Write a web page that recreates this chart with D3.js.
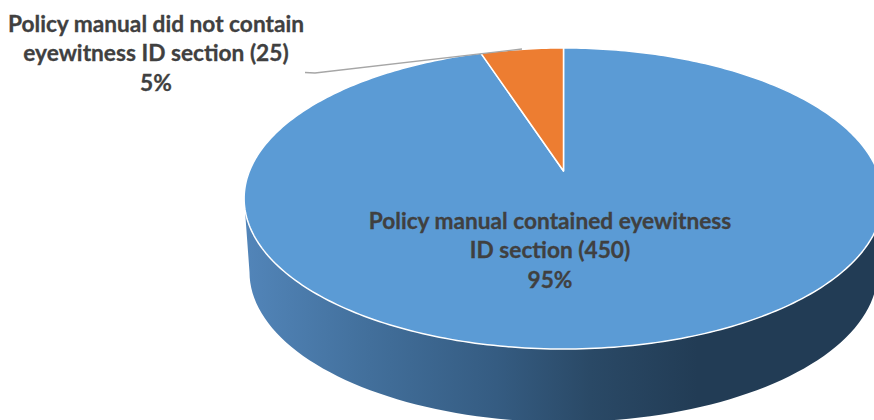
<!DOCTYPE html>
<html><head><meta charset="utf-8">
<script src="https://cdn.jsdelivr.net/npm/d3@7/dist/d3.min.js"></script>
<style>html,body{margin:0;padding:0;background:#fff;overflow:hidden}svg{display:block}</style>
</head><body><svg id="c" width="874" height="420"></svg>
<script>
const categories = ["Policy manual contained eyewitness ID section", "Policy manual did not contain eyewitness ID section"];
const counts = [450, 25];
const percentValues = [95, 5];
const sliceColors = ["#5b9bd5", "#ed7d31"];
const labelLines = [
  ["Policy manual contained eyewitness", "ID section (450)", "95%"],
  ["Policy manual did not contain", "eyewitness ID section (25)", "5%"]
];

const W = 874, H = 420;
const svg = d3.select("#c");
const apex = {x: 563.5, y: 171};
const k = 0.1827, a = 145.5, b = 314;
// Tilted-disc projection: a circle seen in perspective, so the pie's centre sits above the ellipse centre
const project = (ang) => {
  const u = Math.sin(ang), v = Math.cos(ang), d = 1 + k * v;
  return [apex.x + b * u / d, apex.y - a * v / d];
};
const rimCx = apex.x, rimCy = 198.5, rimRx = b / Math.sqrt(1 - k * k), rimRy = 150.5;
const wallBottomCy = 272, wallBottomRx = 314, wallBottomRy = 150;

const pie = d3.pie().sort(null).startAngle(0).endAngle(2 * Math.PI);
const arcs = pie(percentValues);
const line = d3.line();

const defs = svg.append("defs");
const grad = defs.append("linearGradient").attr("id", "wall")
  .attr("gradientUnits", "userSpaceOnUse").attr("x1", 244).attr("x2", 874).attr("y1", 0).attr("y2", 0);
[[0, "#5285b9"], [0.2, "#426f9b"], [0.4, "#355c82"], [0.55, "#2a4966"], [0.72, "#223c55"], [1, "#223c55"]]
  .forEach(([o, c]) => grad.append("stop").attr("offset", o).attr("stop-color", c));

// side wall: lower half of the rim, then back along the lower half of the base
const halfTurn = d3.range(0, 181, 2).map(t => t * Math.PI / 180);
const wallTop = halfTurn.map(t => [rimCx + rimRx * Math.cos(t), rimCy + rimRy * Math.sin(t)]);
const wallBase = halfTurn.slice().reverse().map(t => [rimCx + wallBottomRx * Math.cos(t), wallBottomCy + wallBottomRy * Math.sin(t)]);
svg.append("path").attr("d", line(wallTop.concat(wallBase)) + "Z").attr("fill", "url(#wall)");

// top face
const wedgePath = (d) => {
  const n = Math.max(8, Math.ceil((d.endAngle - d.startAngle) * 60));
  const pts = d3.range(n + 1).map(i => project(d.startAngle + (d.endAngle - d.startAngle) * i / n));
  return line([[apex.x, apex.y], ...pts]) + "Z";
};
svg.selectAll("path.slice").data(arcs).join("path").attr("class", "slice")
  .attr("d", wedgePath)
  .attr("fill", (d, i) => sliceColors[i])
  .attr("stroke", "#fff").attr("stroke-width", 1.5).attr("stroke-linejoin", "round");

// leader line
svg.append("path").attr("fill", "none").attr("stroke", "#a6a6a6").attr("stroke-width", 1.4)
  .attr("d", line([[305, 72.5], [315, 73], [522, 49]]));

// labels
const labelAnchors = [{x: 550, y: 221}, {x: 156, y: 24}];
const labelStep = 29.5;
labelLines.forEach((lines, i) => {
  svg.append("g").selectAll("text").data(lines).join("text")
    .attr("x", labelAnchors[i].x)
    .attr("y", (d, j) => labelAnchors[i].y + j * labelStep)
    .attr("dy", "0.35em")
    .attr("text-anchor", "middle")
    .attr("font-family", "Lato, 'Open Sans', sans-serif")
    .attr("font-weight", 700)
    .attr("font-size", 22.7)
    .attr("fill", "#404040")
    .attr("stroke", "#404040").attr("stroke-width", 0.3)
    .text(d => d);
});
</script></body></html>
